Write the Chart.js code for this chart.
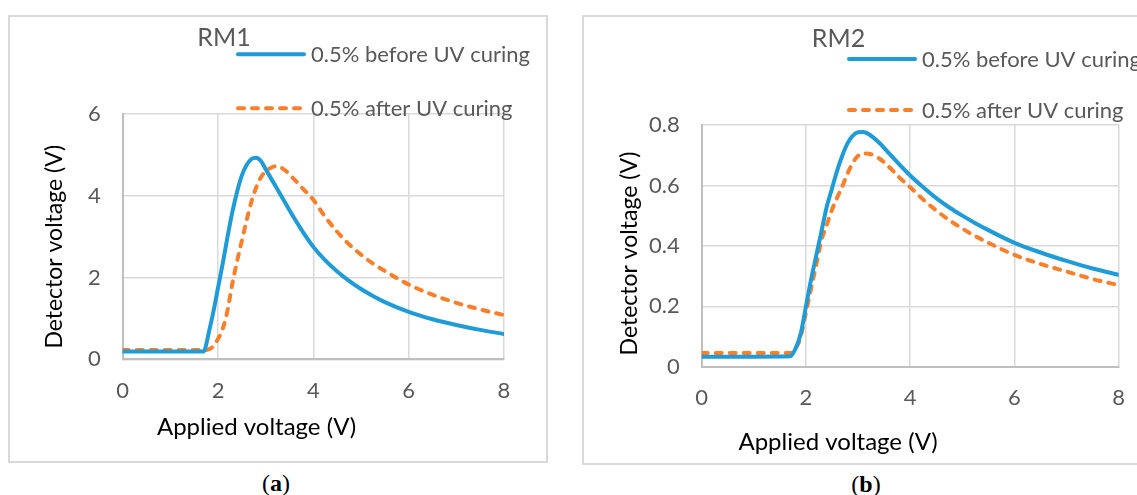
<!DOCTYPE html>
<html>
<head>
<meta charset="utf-8">
<script src="https://cdn.jsdelivr.net/npm/chart.js@4.4.1/dist/chart.umd.min.js"></script>
<style>
  body { margin: 0; background: #fff; width: 1137px; height: 495px; overflow: hidden; position: relative; }
  .box { position: absolute; border: 2px solid #d9d9d9; box-sizing: border-box; }
  canvas { position: absolute; }
  .cap { position: absolute; font-family: "Liberation Serif", serif; font-size: 24px; transform: translateX(-50%); }
</style>
</head>
<body>
<div class="box" style="left:8px;top:15px;width:540px;height:448px"></div>
<div class="box" style="left:582px;top:15px;width:600px;height:450px"></div>
<canvas id="rm1" width="539" height="447" style="left:8px;top:15px"></canvas>
<canvas id="rm2" width="570" height="449" style="left:583px;top:15px"></canvas>
<div class="cap" style="left:276px;top:470px">(<b>a</b>)</div>
<div class="cap" style="left:866px;top:471px">(<b>b</b>)</div>
<script>
/* ---- data ---- */
const seriesLabels = ["0.5% before UV curing", "0.5% after UV curing"];
const panelTitles = ["RM1", "RM2"];
const xTitle = "Applied voltage (V)";
const yTitle = "Detector voltage (V)";
const xTicks = [0, 2, 4, 6, 8];

// RM1
const xA = [0, 1.7, 1.75, 1.8, 1.9, 2.0, 2.1, 2.2, 2.3, 2.4, 2.5, 2.6, 2.7, 2.8, 2.9, 3.0, 3.1, 3.2, 3.3, 3.4, 3.6, 3.8, 4.0, 4.25, 4.5, 4.75, 5.0, 5.25, 5.5, 6.0, 6.5, 7.0, 7.5, 8.0];
const beforeA = [0.19, 0.19, 0.35, 0.62, 1.15, 1.75, 2.35, 3.0, 3.6, 4.1, 4.5, 4.75, 4.9, 4.93, 4.85, 4.65, 4.45, 4.25, 4.05, 3.85, 3.45, 3.08, 2.75, 2.42, 2.15, 1.92, 1.72, 1.55, 1.4, 1.16, 0.98, 0.84, 0.72, 0.62];
const afterA = [0.23, 0.23, 0.23, 0.24, 0.32, 0.5, 0.75, 1.2, 1.85, 2.4, 2.9, 3.4, 3.85, 4.2, 4.45, 4.6, 4.68, 4.72, 4.7, 4.63, 4.4, 4.15, 3.9, 3.48, 3.12, 2.81, 2.56, 2.34, 2.16, 1.83, 1.58, 1.38, 1.22, 1.08];
const yTicksA = [0, 2, 4, 6];

// RM2
const xB = [0, 1.7, 1.8, 1.9, 2.0, 2.1, 2.2, 2.3, 2.4, 2.5, 2.6, 2.7, 2.8, 2.9, 3.0, 3.1, 3.2, 3.4, 3.6, 3.8, 4.0, 4.25, 4.5, 4.75, 5.0, 5.25, 5.5, 6.0, 6.5, 7.0, 7.5, 8.0];
const beforeB = [0.033, 0.035, 0.06, 0.11, 0.2, 0.29, 0.37, 0.45, 0.53, 0.59, 0.65, 0.7, 0.74, 0.765, 0.776, 0.777, 0.77, 0.742, 0.705, 0.668, 0.633, 0.594, 0.558, 0.527, 0.5, 0.475, 0.452, 0.41, 0.378, 0.35, 0.325, 0.304];
const afterB = [0.045, 0.045, 0.06, 0.1, 0.18, 0.26, 0.34, 0.42, 0.47, 0.52, 0.56, 0.598, 0.64, 0.675, 0.698, 0.706, 0.705, 0.69, 0.66, 0.625, 0.594, 0.553, 0.517, 0.485, 0.457, 0.432, 0.41, 0.37, 0.34, 0.315, 0.29, 0.27];
const yTicksB = [0, 0.2, 0.4, 0.6, 0.8];

const BLUE = "#1f9bd8";
const ORANGE = "#fa7f2a";
const GREY = "#595959";
const FONT = "Lato, 'Open Sans', sans-serif";

/* titles, legend and axis titles drawn where the original puts them */
const panelText = {
  id: "panelText",
  afterDraw(chart, args, o) {
    const ctx = chart.ctx;
    ctx.save();
    ctx.fillStyle = GREY;
    ctx.textAlign = "center";
    ctx.textBaseline = "alphabetic";
    ctx.font = "25px " + FONT;
    ctx.fillText(o.title, o.titleX, o.titleY);

    chart.data.datasets.forEach((ds, i) => {
      const y = o.legY[i];
      ctx.beginPath();
      ctx.strokeStyle = ds.borderColor;
      ctx.lineWidth = 4;
      ctx.lineCap = "round";
      ctx.setLineDash(ds.borderDash || []);
      ctx.moveTo(o.legX0, y);
      ctx.lineTo(o.legX1, y);
      ctx.stroke();
      ctx.setLineDash([]);
      ctx.fillStyle = GREY;
      ctx.textAlign = "left";
      ctx.font = "22px " + FONT;
      ctx.fillText(ds.label, o.legX1 + 7, y + 7.5);
    });

    ctx.fillStyle = "#000";
    ctx.font = "24px " + FONT;
    ctx.textAlign = "center";
    ctx.fillText(xTitle, o.xtX, o.xtY);
    ctx.translate(o.ytX, o.ytY);
    ctx.rotate(-Math.PI / 2);
    ctx.font = "23px " + FONT;
    ctx.fillText(yTitle, 0, 0);
    ctx.restore();
  }
};

function makePanel(id, xs, before, after, yTicks, yMax, box, text) {
  const pts = ys => xs.map((x, i) => ({ x: x, y: ys[i] }));
  const el = document.getElementById(id);
  return new Chart(el, {
    type: "line",
    data: {
      datasets: [
        { label: seriesLabels[0], data: pts(before), borderColor: BLUE, borderWidth: 4,
          pointRadius: 0, cubicInterpolationMode: "monotone", borderCapStyle: "round" },
        { label: seriesLabels[1], data: pts(after), borderColor: ORANGE, borderWidth: 4,
          borderDash: [6, 8], borderCapStyle: "round",
          pointRadius: 0, cubicInterpolationMode: "monotone" }
      ]
    },
    options: {
      responsive: false,
      animation: false,
      layout: { padding: { left: 0, top: box.top, right: el.width - box.right, bottom: 0 } },
      plugins: { legend: { display: false }, tooltip: { enabled: false }, panelText: text },
      scales: {
        x: {
          type: "linear", min: 0, max: 8,
          afterBuildTicks: s => { s.ticks = xTicks.map(v => ({ value: v })); },
          afterFit: s => { s.height = el.height - box.bottom; },
          grid: { color: "#d9d9d9", lineWidth: 1.5, drawTicks: false },
          border: { color: "#bfbfbf", width: 2 },
          ticks: { color: GREY, font: { family: FONT, size: 22 }, padding: 18, maxRotation: 0 }
        },
        y: {
          min: 0, max: yMax,
          afterBuildTicks: s => { s.ticks = yTicks.map(v => ({ value: v })); },
          afterFit: s => { s.width = box.left; },
          grid: { color: "#d9d9d9", lineWidth: 1.5, drawTicks: false },
          border: { color: "#bfbfbf", width: 2 },
          ticks: { color: GREY, font: { family: FONT, size: 22 }, padding: 22,
                   callback: v => String(v) }
        }
      }
    },
    plugins: [panelText]
  });
}

makePanel("rm1", xA, beforeA, afterA, yTicksA, 6,
  { left: 114.7, top: 99, right: 496, bottom: 344.3 },
  { title: panelTitles[0], titleX: 216, titleY: 31, legX0: 230, legX1: 296, legY: [39.3, 93.3],
    xtX: 248.5, xtY: 420, ytX: 53.7, ytY: 231.7 });

makePanel("rm2", xB, beforeB, afterB, yTicksB, 0.8,
  { left: 118.7, top: 110, right: 535.7, bottom: 351.7 },
  { title: panelTitles[1], titleX: 255.5, titleY: 31.7, legX0: 266, legX1: 332, legY: [44, 95],
    xtX: 255, xtY: 435, ytX: 53.7, ytY: 238.5 });
</script>
</body>
</html>
